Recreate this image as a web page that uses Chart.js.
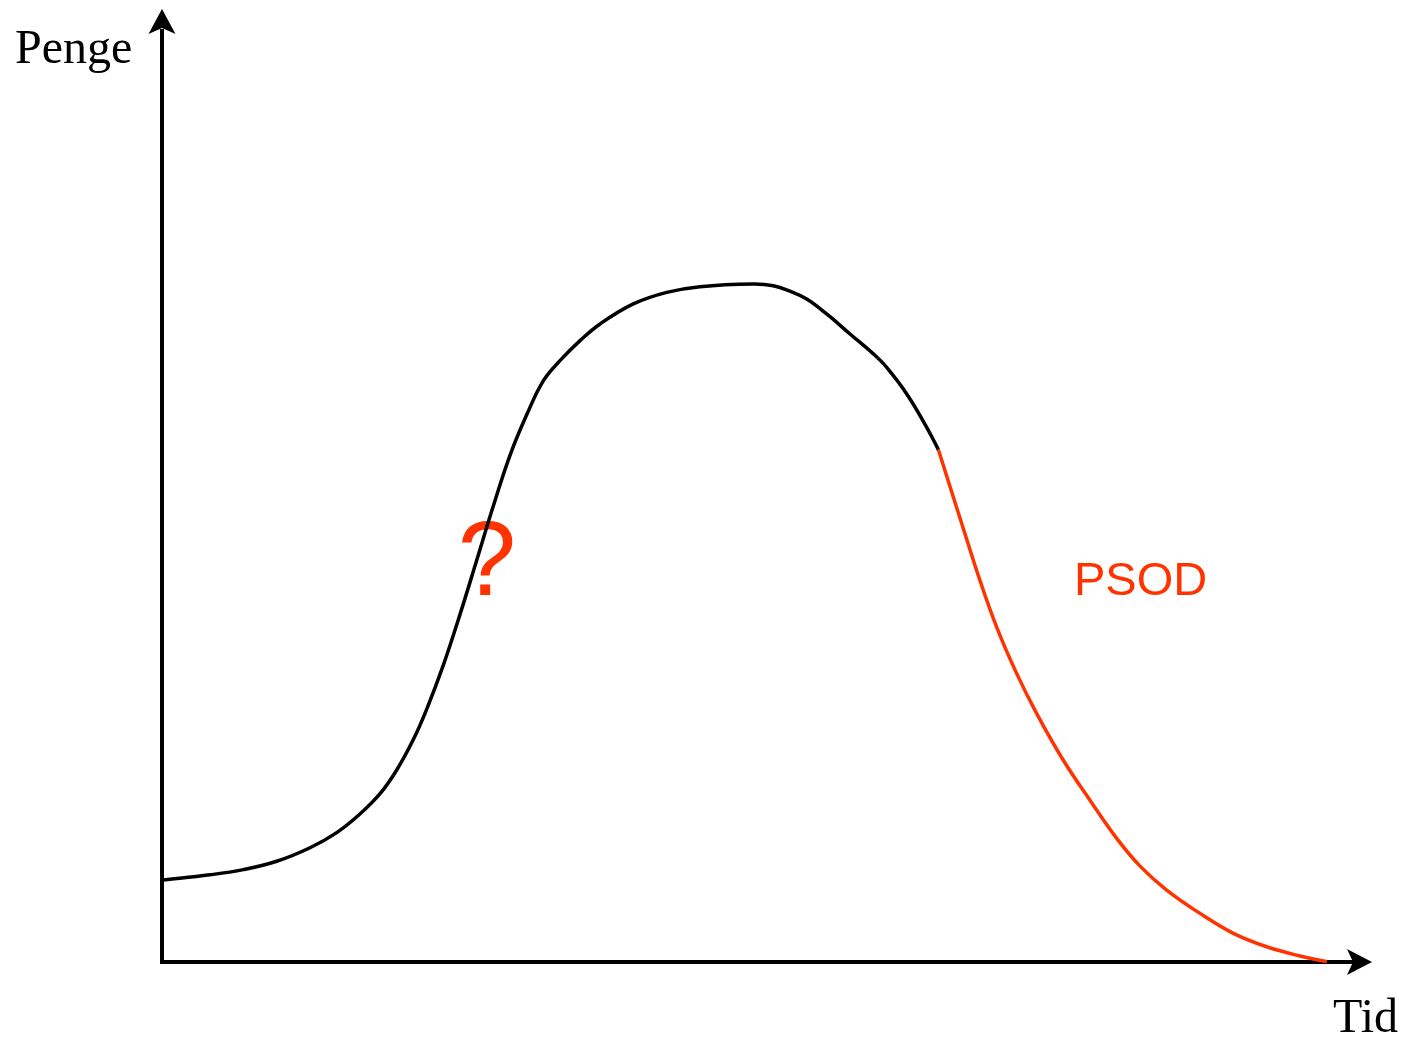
<!DOCTYPE html>
<html>
<head>
<meta charset="utf-8">
<script src="https://cdn.jsdelivr.net/npm/chart.js@4/dist/chart.umd.min.js"></script>
<style>
  html, body { margin: 0; padding: 0; background: #fff; }
  canvas { display: block; }
</style>
</head>
<body>
<canvas id="c" width="1405" height="1042"></canvas>
<script>
// Axis labels and annotations
const yAxisLabel = "Penge";
const xAxisLabel = "Tid";
const questionLabel = "?";
const psodLabel = "PSOD";

// Black curve (x: time 0..100, y: money 0..100)
const blackX = [0.0, 3.97, 6.72, 9.48, 12.23, 14.44, 16.36, 18.02, 19.40, 20.77, 21.88, 23.25, 24.63, 26.01, 27.38, 28.76, 30.14, 31.51, 32.89, 34.55, 36.20, 38.95, 41.71, 44.46, 48.87, 50.52, 51.90, 53.28, 54.93, 56.86, 58.79, 59.89, 61.55, 63.20, 64.16];
const blackY = [8.6, 9.15, 9.69, 10.57, 11.99, 13.58, 15.53, 17.66, 20.15, 23.34, 26.54, 31.15, 36.48, 42.16, 47.84, 53.17, 57.42, 60.97, 63.10, 65.20, 66.95, 69.05, 70.26, 70.86, 71.14, 70.96, 70.39, 69.57, 68.0, 65.90, 63.81, 62.40, 59.61, 56.11, 53.77];

// Red (PSOD) curve
const redX = [64.16, 66.36, 67.60, 68.98, 70.64, 72.29, 74.49, 76.69, 78.90, 80.83, 83.03, 85.79, 88.54, 91.30, 94.05, 96.26];
const redY = [53.77, 44.94, 40.04, 35.15, 30.26, 26.07, 21.17, 16.98, 12.97, 10.06, 7.55, 5.10, 3.01, 1.60, 0.63, 0.03];

const RED = "#ff3300";
const toPts = (xs, ys) => xs.map((x, i) => ({ x: x, y: ys[i] }));

const axesPlugin = {
  id: "axesPlugin",
  beforeDatasetsDraw(chart) {
    const ctx = chart.ctx;
    const xs = chart.scales.x, ys = chart.scales.y;
    const x0 = xs.getPixelForValue(0), y0 = ys.getPixelForValue(0);
    const xEnd = xs.getPixelForValue(100), yEnd = ys.getPixelForValue(100);
    ctx.save();
    ctx.strokeStyle = "#000";
    ctx.fillStyle = "#000";
    ctx.lineWidth = 4;
    ctx.lineCap = "butt";
    // y axis
    ctx.beginPath();
    ctx.moveTo(x0, y0 + 2);
    ctx.lineTo(x0, yEnd + 20);
    ctx.stroke();
    // x axis
    ctx.beginPath();
    ctx.moveTo(x0 - 2, y0);
    ctx.lineTo(xEnd - 12, y0);
    ctx.stroke();
    // y arrowhead
    ctx.beginPath();
    ctx.moveTo(x0, yEnd);
    ctx.lineTo(x0 + 13.5, yEnd + 25);
    ctx.lineTo(x0, yEnd + 19);
    ctx.lineTo(x0 - 13.5, yEnd + 25);
    ctx.closePath();
    ctx.fill();
    // x arrowhead
    ctx.beginPath();
    ctx.moveTo(xEnd, y0);
    ctx.lineTo(xEnd - 25, y0 - 13);
    ctx.lineTo(xEnd - 19, y0);
    ctx.lineTo(xEnd - 25, y0 + 13);
    ctx.closePath();
    ctx.fill();

    // axis labels
    ctx.font = '48px "Liberation Serif", "Times New Roman", serif';
    ctx.textBaseline = "alphabetic";
    ctx.textAlign = "left";
    ctx.fillText(yAxisLabel, 15, 63);
    ctx.textAlign = "right";
    ctx.fillText(xAxisLabel, 1398, 1032);

    // annotations
    ctx.fillStyle = RED;
    ctx.textAlign = "center";
    ctx.font = '105px "Liberation Sans", Arial, sans-serif';
    ctx.fillText(questionLabel, 487, 595);
    ctx.textAlign = "left";
    ctx.font = '47px "Liberation Sans", Arial, sans-serif';
    ctx.fillText(psodLabel, 1074, 595);
    ctx.restore();
  }
};

new Chart(document.getElementById("c"), {
  type: "scatter",
  data: {
    datasets: [
      {
        data: toPts(blackX, blackY),
        showLine: true,
        borderColor: "#000",
        borderWidth: 3.5,
        pointRadius: 0,
        tension: 0.4,
        clip: false
      },
      {
        data: toPts(redX, redY),
        showLine: true,
        borderColor: RED,
        borderWidth: 3.5,
        pointRadius: 0,
        tension: 0.4,
        clip: false
      }
    ]
  },
  options: {
    responsive: false,
    animation: false,
    events: [],
    layout: { padding: { left: 162, right: 33, top: 9, bottom: 80 } },
    plugins: { legend: { display: false }, tooltip: { enabled: false } },
    scales: {
      x: { type: "linear", min: 0, max: 100, display: false },
      y: { type: "linear", min: 0, max: 100, display: false }
    }
  },
  plugins: [axesPlugin]
});
</script>
</body>
</html>
